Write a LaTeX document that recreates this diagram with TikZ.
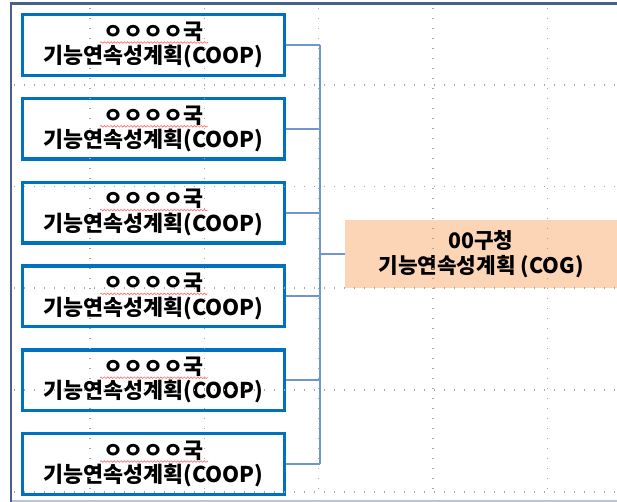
\documentclass[tikz,border=0pt]{standalone}
\usepackage{fontspec}
\newfontfamily\kr{Noto Sans CJK KR}
\usetikzlibrary{decorations.pathmorphing}
\definecolor{coopblue}{HTML}{0070C0}
\definecolor{connblue}{HTML}{6F96D0}
\definecolor{peach}{HTML}{FBD5B5}
\definecolor{framedark}{HTML}{46618E}
\definecolor{framelight}{HTML}{B9C4D6}
\begin{document}
\begin{tikzpicture}[x=0.75pt,y=-0.75pt,
  coopbox/.style={draw=coopblue, line width=2.6pt, minimum width=196.2pt, minimum height=45.4pt,
    inner sep=0pt, align=center, font=\kr\bfseries\fontsize{16.3}{18.3}\selectfont},
  cogbox/.style={fill=peach, minimum width=204pt, minimum height=51pt, inner sep=0pt,
    align=center, font=\kr\bfseries\fontsize{16}{18.3}\selectfont},
  conn/.style={draw=connblue, line width=1.4pt},
  gridline/.style={draw=black!35, line width=0.9pt, dash pattern=on 0.9pt off 6.6pt},
  squiggle/.style={draw=red!55, line width=0.5pt, decorate,
    decoration={snake, amplitude=0.6pt, segment length=2.5pt}}]
\useasboundingbox (0,0) rectangle (617,502);
% frame
\draw[framelight, line width=1.5pt] (11,500.5) -- (617,500.5);
\draw[framedark, line width=2.2pt] (11,502) -- (11,3.5) -- (617,3.5);
% COG
\node[cogbox] (cog) at (481,254) {00구청\\기능연속성계획 (COG)};
% COOP boxes
\foreach \i/\y in {1/45,2/128.8,3/212.6,4/296.4,5/380.2,6/464}{
  \node[coopbox] (b\i) at (153.5,\y) {ㅇㅇㅇㅇ국\\기능연속성계획(COOP)};
  \draw[squiggle] (100,\y-2.5) -- (208,\y-2.5);
}
% connectors
\coordinate (bus) at (320,0);
\foreach \i in {1,...,6}{
  \draw[conn] (b\i.east) -- (b\i.east -| bus);
}
\draw[conn] (b1.east -| bus) -- (b6.east -| bus);
\draw[conn] (cog.west -| bus) -- (cog.west);
% grid
\foreach \x in {90,204.3,318.6,433,547.2}{
  \draw[gridline] (\x,8) -- (\x,498);
}
\foreach \y in {85,186.5,288,390,492}{
  \draw[gridline] (14,\y) -- (617,\y);
}
\end{tikzpicture}
\end{document}
